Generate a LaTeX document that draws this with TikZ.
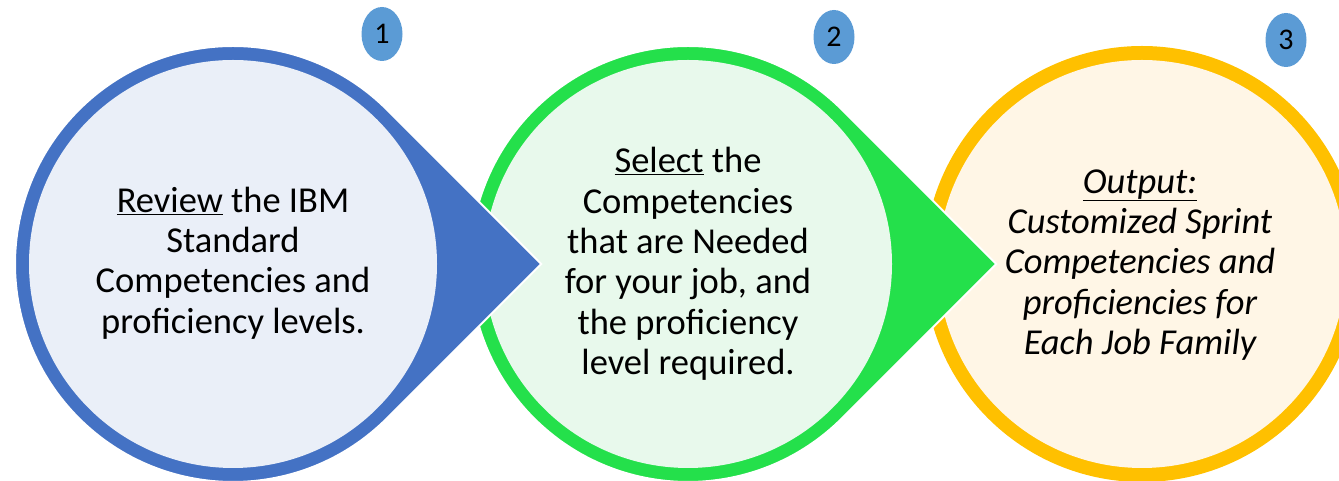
\documentclass[tikz,border=0pt]{standalone}
\usepackage{fontspec}
\setmainfont{Carlito}
\usetikzlibrary{shapes.geometric}
\definecolor{blueA}{HTML}{4472C4}
\definecolor{blueL}{HTML}{EAEFF8}
\definecolor{greenA}{HTML}{24E04B}
\definecolor{greenL}{HTML}{E8F9EC}
\definecolor{yellowA}{HTML}{FFC000}
\definecolor{yellowL}{HTML}{FFF6E6}
\definecolor{badgeblue}{HTML}{5B9BD5}
\begin{document}
\begin{tikzpicture}[x=1pt,y=1pt,
  drop/.style={fill=#1, draw=white, line width=2pt},
  disc/.style={fill=#1},
  txt/.style={align=center, font=\fontsize{36.5}{40.3}\selectfont, text=black},
  badge/.style={ellipse, fill=badgeblue, minimum width=41pt, minimum height=54pt, inner sep=0pt, font=\fontsize{30}{32}\selectfont, text=black}]
\useasboundingbox (0,0) rectangle (1339,481);
\clip (0,0) rectangle (1339,481);
\coordinate (c1) at (233,217);
\coordinate (c2) at (688,217);
\coordinate (c3) at (1142,217);
% circle 3 (plain ring)
\path[disc=yellowA] (c3) circle[radius=218pt];
\path[disc=yellowL] (c3) circle[radius=204pt];
% circle 2
\path[drop=greenA] ([shift={(c2)}]0:308.3pt) -- ([shift={(c2)}]45:218pt) arc[start angle=45,end angle=315,radius=218pt] -- cycle;
\path[disc=greenL] (c2) circle[radius=204pt];
% circle 1
\path[drop=blueA] ([shift={(c1)}]0:308.3pt) -- ([shift={(c1)}]45:218pt) arc[start angle=45,end angle=315,radius=218pt] -- cycle;
\path[disc=blueL] (c1) circle[radius=204pt];
% texts
\node[txt] (t1) at ([yshift=1pt]c1) {\underline{Review} the IBM\\ Standard\\ Competencies and\\ proficiency levels.};
\node[txt] (t2) at ([yshift=0pt]c2) {\underline{Select} the\\ Competencies\\ that are Needed\\ for your job, and\\ the proficiency\\ level required.};
\node[txt, font=\fontsize{36.5}{40.3}\selectfont\itshape] (t3) at ([xshift=-2pt,yshift=-1pt]c3) {\underline{Output:}\\ Customized Sprint\\ Competencies and\\ proficiencies for\\ Each Job Family};
% badges
\node[badge] (b1) at (382,447) {1};
\node[badge] (b2) at (834,444) {2};
\node[badge] (b3) at (1286,441) {3};
\end{tikzpicture}
\end{document}
